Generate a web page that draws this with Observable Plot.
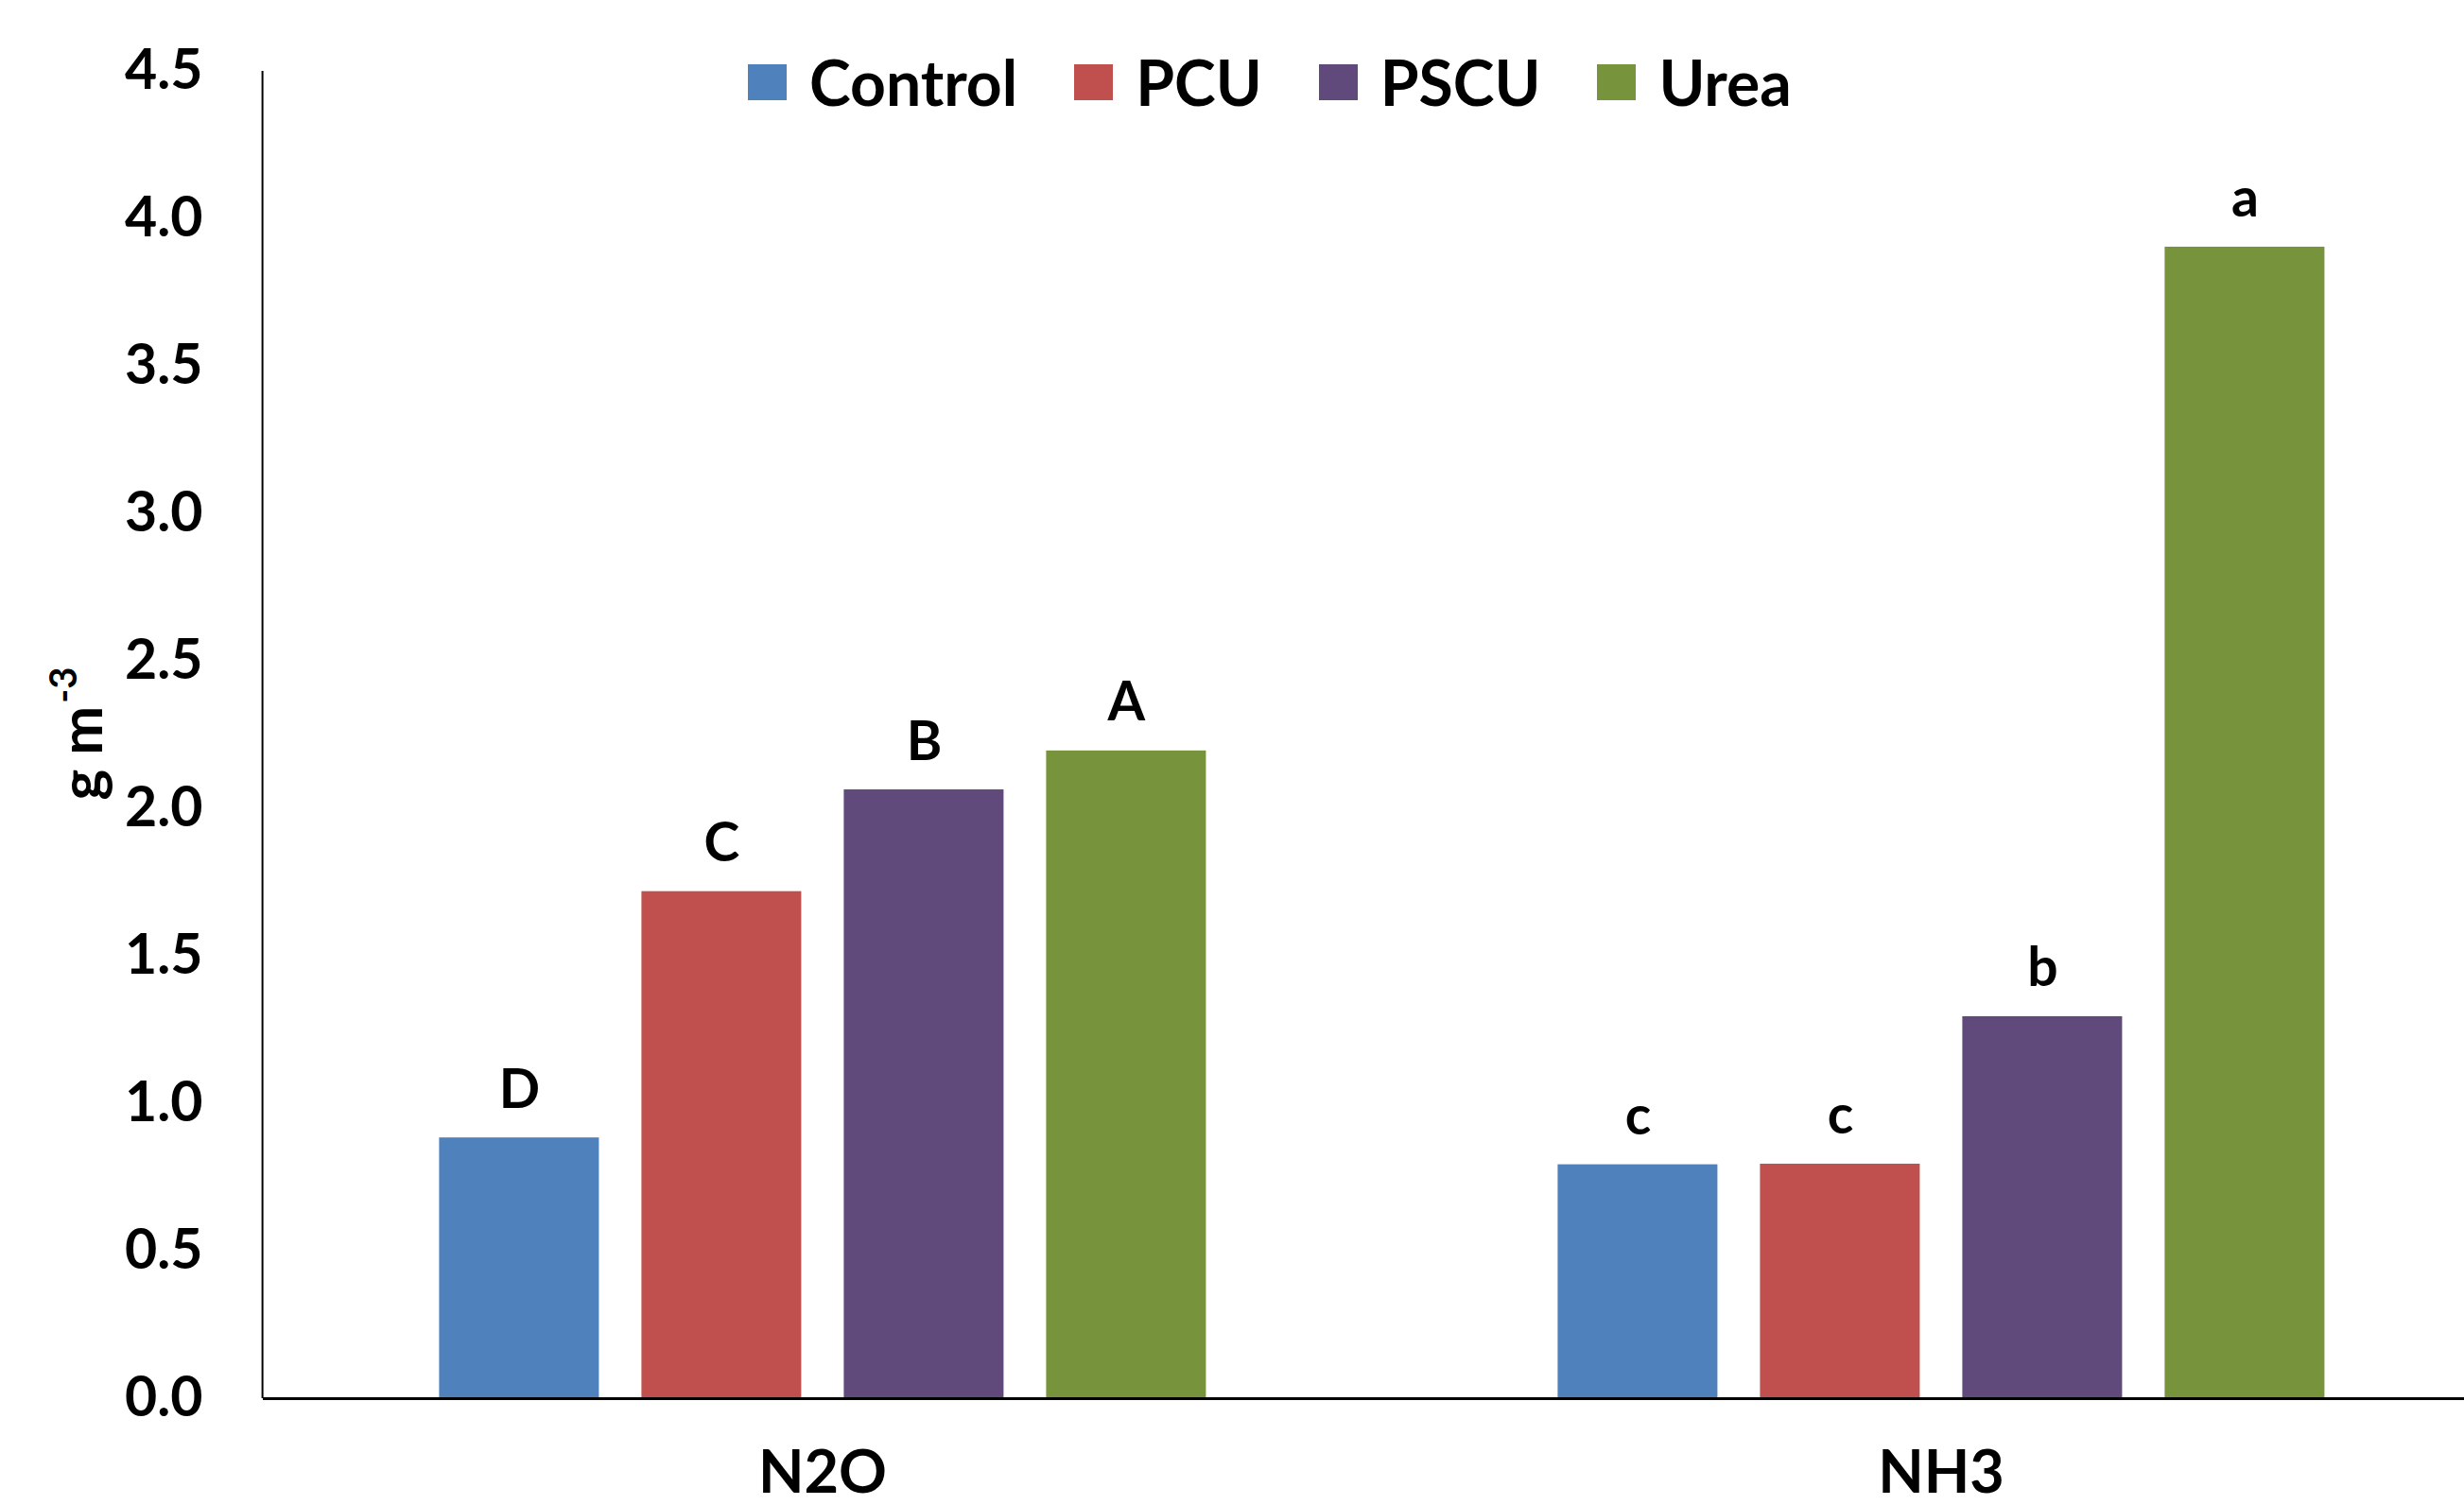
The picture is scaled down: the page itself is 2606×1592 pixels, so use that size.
<!DOCTYPE html>
<html>
<head>
<meta charset="utf-8">
<script src="https://cdn.jsdelivr.net/npm/d3@7"></script>
<script src="https://cdn.jsdelivr.net/npm/@observablehq/plot@0.6"></script>
<style>
  html, body { margin: 0; padding: 0; background: #fff; }
  #wrap { position: relative; width: 2606px; height: 1592px; overflow: hidden; }
  #legend { position: absolute; left: 791px; top: 47px; display: flex; align-items: center;
            font-family: Lato, "Open Sans", sans-serif; font-weight: 700; font-size: 66px; color: #000; }
  .item { display: flex; align-items: center; margin-right: 60px; }
  .sw { width: 41px; height: 38px; margin-right: 24px; }
  #ylabel { position: absolute; left: 84px; top: 776px; transform: translate(-50%, -50%) rotate(-90deg);
            font-family: Lato, "Open Sans", sans-serif; font-weight: 700; font-size: 62px; color: #000; white-space: nowrap; line-height: 1; }
  #ylabel sup { font-size: 40px; vertical-align: 0; position: relative; top: -27px; margin-left: 3px; }
</style>
</head>
<body>
<div id="wrap"><div id="legend"></div><div id="ylabel"></div></div>
<script>
const categories = ["N2O", "NH3"];
const treatments = ["Control", "PCU", "PSCU", "Urea"];
const n2oValues = [0.884, 1.719, 2.064, 2.196];
const nh3Values = [0.793, 0.795, 1.295, 3.904];
const n2oLetters = ["D", "C", "B", "A"];
const nh3Letters = ["c", "c", "b", "a"];
const colors = ["#4F81BD", "#C0504D", "#5F4A7B", "#77933C"];
const yTicks = [0, 0.5, 1.0, 1.5, 2.0, 2.5, 3.0, 3.5, 4.0, 4.5];
const yLabelBase = "g m";
const yLabelExp = "-3";

const data = [];
treatments.forEach((t, i) => data.push({gas: categories[0], treatment: t, value: n2oValues[i], letter: n2oLetters[i]}));
treatments.forEach((t, i) => data.push({gas: categories[1], treatment: t, value: nh3Values[i], letter: nh3Letters[i]}));

const marginLeft = 277.6;
const chart = Plot.plot({
  width: 2606,
  height: 1592,
  marginLeft,
  marginRight: -38.2,
  marginTop: 75,
  marginBottom: 113,
  style: {fontFamily: "Lato, 'Open Sans', sans-serif", fontWeight: 700, background: "white", color: "black", overflow: "hidden"},
  fx: {domain: categories, padding: 0, label: null},
  x: {domain: treatments, paddingInner: 0.2097, paddingOuter: 0.8625, axis: null},
  y: {domain: [0, 4.5]},
  color: {domain: treatments, range: colors},
  marks: [
    Plot.barY(data, {fx: "gas", x: "treatment", y: "value", fill: "treatment"}),
    Plot.text(data, {fx: "gas", x: "treatment", y: "value", text: "letter", lineAnchor: "bottom", dy: -32, fontSize: 57, fontWeight: 700, fill: "black"}),
    Plot.ruleY([0], {stroke: "black", strokeWidth: 3}),
    Plot.axisY({ticks: yTicks, tickSize: 0, tickPadding: 64, tickFormat: d3.format(".1f"), fontSize: 59, fontWeight: 700, label: null}),
    Plot.axisFx({anchor: "bottom", tickSize: 0, tickPadding: 55, fontSize: 63, fontWeight: 700, label: null})
  ]
});

const ys = chart.scale("y");
d3.select(chart).append("line")
  .attr("x1", marginLeft).attr("x2", marginLeft)
  .attr("y1", ys.apply(4.5)).attr("y2", ys.apply(0))
  .attr("stroke", "black").attr("stroke-width", 2);

document.getElementById("wrap").prepend(chart);

const yl = document.getElementById("ylabel");
yl.appendChild(document.createTextNode(yLabelBase));
const sup = document.createElement("sup");
sup.textContent = yLabelExp;
yl.appendChild(sup);

const legend = document.getElementById("legend");
treatments.forEach((t, i) => {
  const item = document.createElement("div");
  item.className = "item";
  const sw = document.createElement("div");
  sw.className = "sw";
  sw.style.background = colors[i];
  const label = document.createElement("span");
  label.textContent = t;
  item.appendChild(sw);
  item.appendChild(label);
  legend.appendChild(item);
});
</script>
</body>
</html>
